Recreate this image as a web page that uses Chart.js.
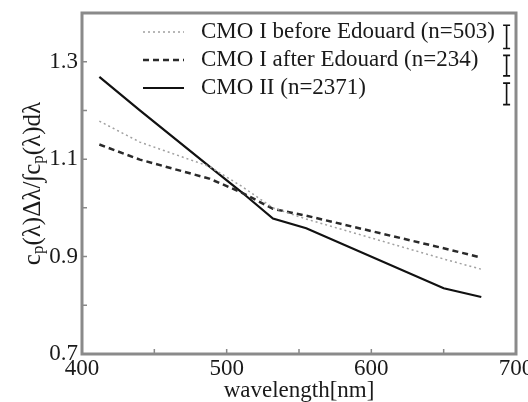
<!DOCTYPE html>
<html><head><meta charset="utf-8">
<script src="https://cdn.jsdelivr.net/npm/chart.js@4.4.0/dist/chart.umd.min.js"></script>
<style>html,body{margin:0;padding:0;background:#fff}</style>
</head><body>
<canvas id="c" width="528" height="402"></canvas>
<script>
// ---- data ----
const wavelengths   = [412, 440, 488, 510, 532, 555, 650, 676];
const beforeEdouard = [1.178, 1.135, 1.085, 1.045, 1.000, 0.977, 0.895, 0.874];
const afterEdouard  = [1.130, 1.099, 1.060, 1.032, 0.998, 0.984, 0.917, 0.898];
const cmoII         = [1.269, 1.200, 1.085, 1.033, 0.978, 0.958, 0.835, 0.817];
const seriesLabels  = ['CMO I before Edouard (n=503)', 'CMO I after Edouard (n=234)', 'CMO II (n=2371)'];
const xTickLabels   = [400, 500, 600, 700];
const xMinorTicks   = [450, 550, 650];
const yTickLabels   = [0.7, 0.9, 1.1, 1.3];
const yMinorTicks   = [0.8, 1.0, 1.2];
const errX          = 693.5;
const errCenter     = [1.351, 1.292, 1.234];
const errHalf       = [0.024, 0.021, 0.022];
const xTitle        = 'wavelength[nm]';
const yTitleParts   = [['c',0],['p',1],['(λ)Δλ/∫',0],['c',0],['p',1],['(λ)dλ',0]];

const FAM = "'Liberation Serif','Times New Roman',serif";
const TXT = '#1a1a1a';

const framePlugin = {
  id: 'frame',
  afterDatasetsDraw(chart) {
    const {ctx, chartArea: a, scales: {x, y}} = chart;
    ctx.save();
    // error bars
    ctx.strokeStyle = '#111'; ctx.lineWidth = 1.6;
    const ex = x.getPixelForValue(errX);
    errCenter.forEach((c, i) => {
      const y1 = y.getPixelForValue(c + errHalf[i]);
      const y2 = y.getPixelForValue(c - errHalf[i]);
      ctx.beginPath();
      ctx.moveTo(ex, y1); ctx.lineTo(ex, y2);
      ctx.moveTo(ex - 3.5, y1); ctx.lineTo(ex + 3.5, y1);
      ctx.moveTo(ex - 3.5, y2); ctx.lineTo(ex + 3.5, y2);
      ctx.stroke();
    });
    // inward ticks
    ctx.strokeStyle = '#888'; ctx.lineWidth = 1.5;
    ctx.beginPath();
    [...yTickLabels, ...yMinorTicks].forEach(v => {
      const py = y.getPixelForValue(v);
      ctx.moveTo(a.left, py); ctx.lineTo(a.left + 5, py);
    });
    [...xTickLabels, ...xMinorTicks].forEach(v => {
      const px = x.getPixelForValue(v);
      ctx.moveTo(px, a.bottom); ctx.lineTo(px, a.bottom - 5);
    });
    ctx.stroke();
    // frame
    ctx.strokeStyle = '#8a8a8a'; ctx.lineWidth = 3;
    ctx.strokeRect(a.left, a.top, a.right - a.left, a.bottom - a.top);
    ctx.restore();
  },
  afterDraw(chart) {
    const {ctx, chartArea: a} = chart;
    ctx.save();
    // legend
    chart.data.datasets.forEach((ds, i) => {
      const yy = a.top + 19 + i * 28;
      ctx.strokeStyle = ds.borderColor; ctx.lineWidth = ds.borderWidth;
      ctx.setLineDash(ds.borderDash || []);
      ctx.beginPath(); ctx.moveTo(143, yy); ctx.lineTo(184, yy); ctx.stroke();
      ctx.setLineDash([]);
      ctx.fillStyle = TXT; ctx.font = "23px " + FAM;
      ctx.textBaseline = 'middle'; ctx.textAlign = 'left';
      ctx.fillText(ds.label, 201, yy);
    });
    // y title with subscripts
    ctx.translate(33, (a.top + a.bottom) / 2);
    ctx.rotate(-Math.PI / 2);
    const fMain = "25px " + FAM, fSub = "17px " + FAM;
    let total = 0;
    yTitleParts.forEach(([t, s]) => { ctx.font = s ? fSub : fMain; total += ctx.measureText(t).width; });
    let cx = -total / 2;
    ctx.fillStyle = TXT; ctx.textBaseline = 'middle'; ctx.textAlign = 'left';
    yTitleParts.forEach(([t, s]) => {
      ctx.font = s ? fSub : fMain;
      ctx.fillText(t, cx, s ? 6 : 0);
      cx += ctx.measureText(t).width;
    });
    ctx.restore();
  }
};

const mk = arr => wavelengths.map((w, i) => ({x: w, y: arr[i]}));

new Chart(document.getElementById('c'), {
  type: 'line',
  data: {
    datasets: [
      {label: seriesLabels[0], data: mk(beforeEdouard), borderColor: '#a0a0a0', borderWidth: 1.5, borderDash: [2, 3], pointRadius: 0, tension: 0, fill: false},
      {label: seriesLabels[1], data: mk(afterEdouard), borderColor: '#2a2a2a', borderWidth: 2.5, borderDash: [6, 4], pointRadius: 0, tension: 0, fill: false},
      {label: seriesLabels[2], data: mk(cmoII), borderColor: '#111', borderWidth: 2.2, pointRadius: 0, tension: 0, fill: false}
    ]
  },
  options: {
    responsive: false, animation: false, events: [],
    layout: {padding: {left: 0, top: 13, right: 12, bottom: 0}},
    plugins: {legend: {display: false}, tooltip: {enabled: false}},
    scales: {
      x: {
        type: 'linear', min: 400, max: 700,
        afterBuildTicks: s => { s.ticks = xTickLabels.map(v => ({value: v})); },
        afterFit: s => { s.height = 48; s.paddingLeft = 0; s.paddingRight = 0; },
        grid: {display: false, drawTicks: false}, border: {display: false},
        ticks: {font: {family: FAM, size: 23}, color: TXT, padding: 1, maxRotation: 0, autoSkip: false},
        title: {display: true, text: xTitle, font: {family: FAM, size: 23, lineHeight: 1}, color: TXT, padding: 0}
      },
      y: {
        type: 'linear', min: 0.7, max: 1.4,
        afterBuildTicks: s => { s.ticks = yTickLabels.map(v => ({value: v})); },
        afterFit: s => { s.width = 82; s.paddingTop = 0; s.paddingBottom = 0; },
        grid: {display: false, drawTicks: false}, border: {display: false},
        ticks: {font: {family: FAM, size: 23}, color: TXT, padding: 4, callback: v => Number(v).toFixed(1)}
      }
    }
  },
  plugins: [framePlugin]
});
</script>
</body></html>
